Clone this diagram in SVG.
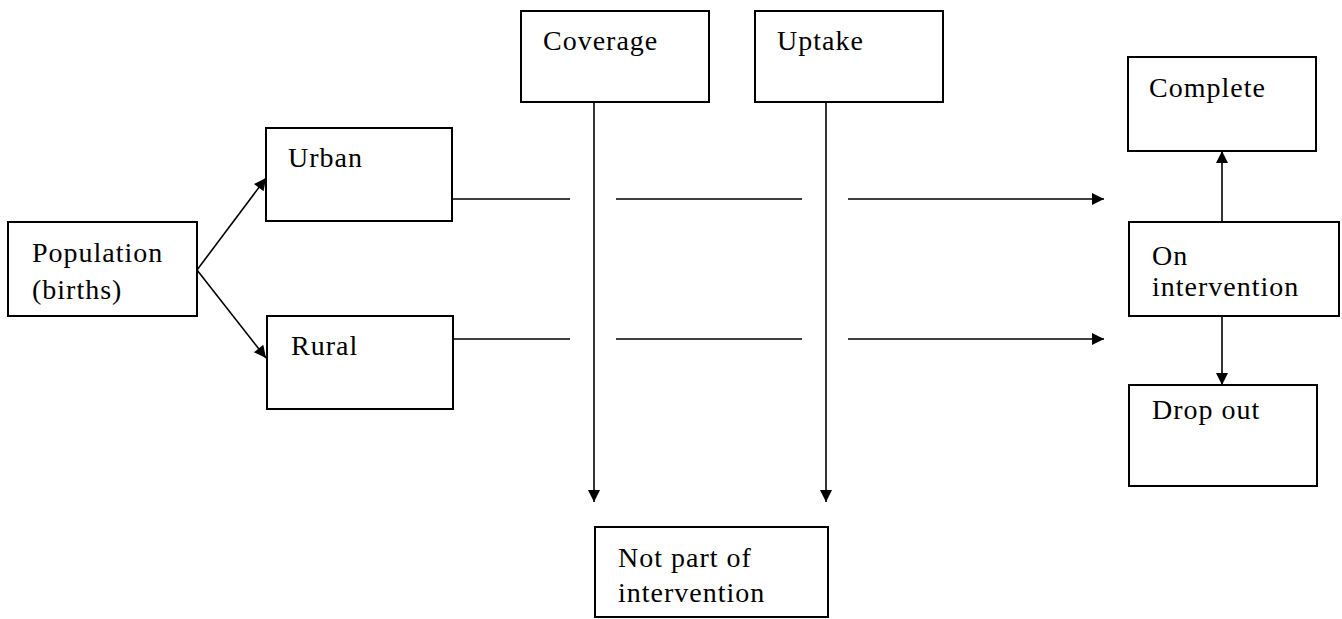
<svg xmlns="http://www.w3.org/2000/svg" width="1342" height="619" viewBox="0 0 1342 619">
<defs>
<style>
.box{fill:#fff;stroke:#000;stroke-width:2}
.lbl{font-family:"Liberation Serif","Times New Roman",serif;font-size:28px;letter-spacing:1px;fill:#000}
.con{stroke:#000;stroke-width:1.6;fill:none}
</style>
<marker id="ah" viewBox="0 0 10 10" refX="10" refY="5" markerWidth="15" markerHeight="12" markerUnits="userSpaceOnUse" orient="auto">
<path d="M0,0 L10,5 L0,10 z" fill="#000"/>
</marker>
</defs>
<rect width="1342" height="619" fill="#fff"/>
<g id="connectors">
<line class="con" x1="197" y1="270" x2="266" y2="178" marker-end="url(#ah)"/>
<line class="con" x1="197" y1="270" x2="266" y2="358" marker-end="url(#ah)"/>
<line class="con" x1="452" y1="199" x2="570" y2="199"/>
<line class="con" x1="616" y1="199" x2="802" y2="199"/>
<line class="con" x1="848" y1="199" x2="1104" y2="199" marker-end="url(#ah)"/>
<line class="con" x1="453" y1="339" x2="570" y2="339"/>
<line class="con" x1="616" y1="339" x2="802" y2="339"/>
<line class="con" x1="848" y1="339" x2="1104" y2="339" marker-end="url(#ah)"/>
<line class="con" x1="594" y1="102" x2="594" y2="502" marker-end="url(#ah)"/>
<line class="con" x1="826" y1="102" x2="826" y2="502" marker-end="url(#ah)"/>
<line class="con" x1="1222" y1="222" x2="1222" y2="151" marker-end="url(#ah)"/>
<line class="con" x1="1222" y1="316" x2="1222" y2="385" marker-end="url(#ah)"/>
</g>
<g id="population">
<rect class="box" x="8" y="222" width="189" height="94"/>
<text class="lbl" x="32" y="262">Population</text>
<text class="lbl" x="32" y="299">(births)</text>
</g>
<g id="urban">
<rect class="box" x="266" y="128" width="186" height="93"/>
<text class="lbl" x="288" y="167">Urban</text>
</g>
<g id="rural">
<rect class="box" x="267" y="316" width="186" height="93"/>
<text class="lbl" x="291" y="355">Rural</text>
</g>
<g id="coverage">
<rect class="box" x="521" y="11" width="188" height="91"/>
<text class="lbl" x="543" y="50">Coverage</text>
</g>
<g id="uptake">
<rect class="box" x="755" y="11" width="188" height="91"/>
<text class="lbl" x="777" y="50">Uptake</text>
</g>
<g id="complete">
<rect class="box" x="1128" y="57" width="188" height="94"/>
<text class="lbl" x="1149" y="97">Complete</text>
</g>
<g id="on-intervention">
<rect class="box" x="1129" y="222" width="210" height="94"/>
<text class="lbl" x="1152" y="265">On</text>
<text class="lbl" x="1152" y="296">intervention</text>
</g>
<g id="drop-out">
<rect class="box" x="1129" y="385" width="188" height="101"/>
<text class="lbl" x="1152" y="419">Drop out</text>
</g>
<g id="not-part">
<rect class="box" x="595" y="527" width="233" height="90"/>
<text class="lbl" x="618" y="567">Not part of</text>
<text class="lbl" x="618" y="602">intervention</text>
</g>
</svg>
